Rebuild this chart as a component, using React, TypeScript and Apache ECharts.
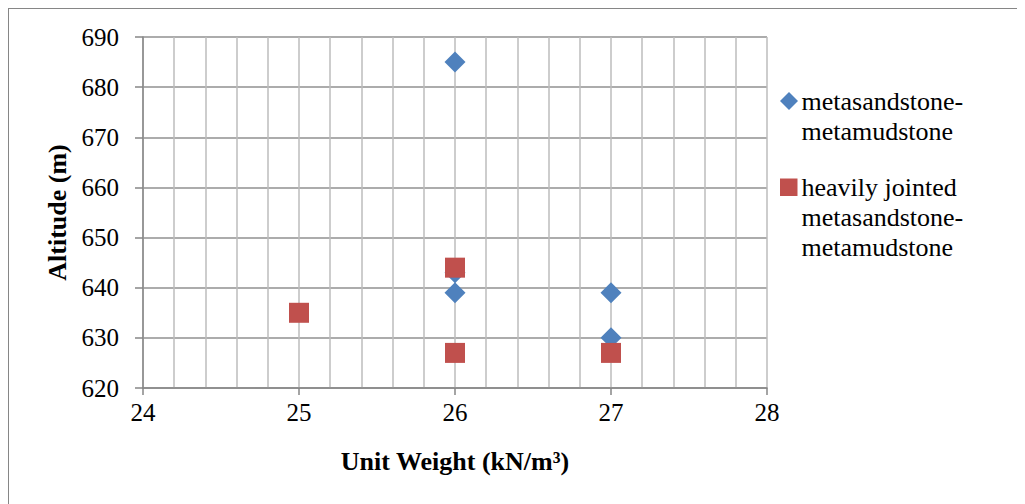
import React, { useEffect, useRef } from "react";
import * as echarts from "echarts";

const seriesNames = [
  "metasandstone-\nmetamudstone",
  "heavily jointed\nmetasandstone-\nmetamudstone",
];
const seriesColors = ["#4F81BD", "#C0504D"];
const metaPoints: number[][] = [
  [26, 685],
  [26, 643],
  [26, 639],
  [27, 639],
  [27, 630],
];
const jointedPoints: number[][] = [
  [25, 635],
  [26, 644],
  [26, 627],
  [27, 627],
];
const xTitle = "Unit Weight (kN/m³)";
const yTitle = "Altitude (m)";

const FONT = "Liberation Serif";

export default function App() {
  const ref = useRef<HTMLDivElement>(null);
  useEffect(() => {
    if (!ref.current) return;
    const chart = echarts.init(ref.current, undefined, { renderer: "svg" });
    const legendTop = [92, 178.5];
    const lineH = 30;
    const legendTexts: any[] = [];
    seriesNames.forEach((name, si) => {
      name.split("\n").forEach((line, li) => {
        legendTexts.push({
          type: "text",
          x: 792.5,
          y: legendTop[si] + li * lineH,
          style: {
            text: line,
            fontFamily: FONT,
            fontSize: 26,
            fill: "#000",
            align: "left",
            verticalAlign: "middle",
          },
        });
      });
    });
    chart.setOption({
      animation: false,
      textStyle: { fontFamily: FONT, color: "#000" },
      grid: { left: 134, top: 28, right: 258, bottom: 116 },
      graphic: [
        {
          type: "polygon",
          shape: {
            points: [
              [780, 83],
              [789, 92],
              [780, 101],
              [771, 92],
            ],
          },
          style: { fill: seriesColors[0] },
        },
        {
          type: "rect",
          shape: { x: 771, y: 169.5, width: 17.5, height: 17.5 },
          style: { fill: seriesColors[1] },
        },
        ...legendTexts,
      ],
      xAxis: {
        type: "value",
        min: 24,
        max: 28,
        interval: 1,
        name: xTitle,
        nameLocation: "middle",
        nameGap: 60,
        nameTextStyle: { fontFamily: FONT, fontSize: 26, fontWeight: "bold", color: "#000" },
        axisLine: { show: true, lineStyle: { color: "#868686", width: 1.5 } },
        axisTick: { show: true, length: 7, lineStyle: { color: "#868686", width: 1.5 } },
        axisLabel: { fontFamily: FONT, fontSize: 25, color: "#000", margin: 12 },
        splitLine: { show: true, lineStyle: { color: "#bcbcbc", width: 1.5 } },
        minorTick: { show: false, splitNumber: 5 },
        minorSplitLine: { show: true, lineStyle: { color: "#bcbcbc", width: 1.5 } },
      },
      yAxis: {
        type: "value",
        min: 620,
        max: 690,
        interval: 10,
        name: yTitle,
        nameLocation: "middle",
        nameGap: 72,
        nameTextStyle: { fontFamily: FONT, fontSize: 26, fontWeight: "bold", color: "#000" },
        axisLine: { show: true, lineStyle: { color: "#868686", width: 1.5 } },
        axisTick: { show: true, length: 8, lineStyle: { color: "#868686", width: 1.5 } },
        axisLabel: { fontFamily: FONT, fontSize: 25, color: "#000", margin: 24 },
        splitLine: { show: true, lineStyle: { color: "#919191", width: 1.5 } },
      },
      series: [
        {
          name: seriesNames[0],
          type: "scatter",
          symbol: "diamond",
          symbolSize: 21,
          itemStyle: { color: seriesColors[0], opacity: 1 },
          data: metaPoints,
        },
        {
          name: seriesNames[1],
          type: "scatter",
          symbol: "rect",
          symbolSize: 20,
          itemStyle: { color: seriesColors[1], opacity: 1 },
          data: jointedPoints,
        },
      ],
    });
    return () => chart.dispose();
  }, []);
  return (
    <div
      style={{
        width: 1017,
        height: 496,
        boxSizing: "border-box",
        borderTop: "1px solid #868686",
        borderLeft: "1px solid #868686",
        overflow: "hidden",
      }}
    >
      <div ref={ref} style={{ width: 1016, height: 495 }} />
    </div>
  );
}
